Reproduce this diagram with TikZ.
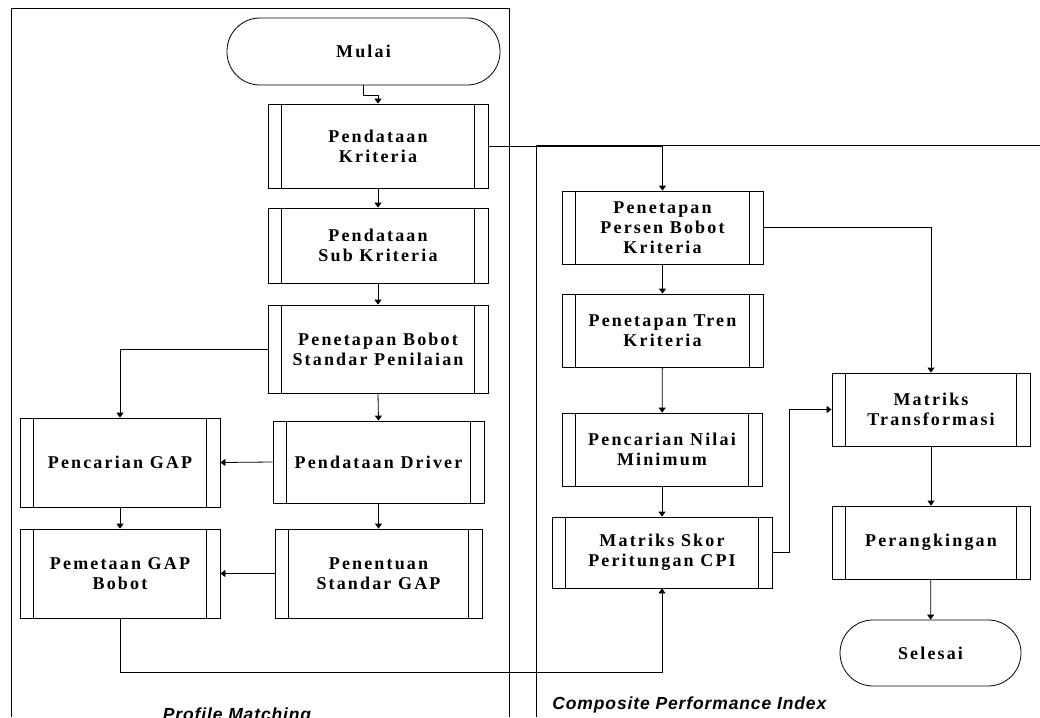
\documentclass[tikz,border=0pt]{standalone}
\usepackage{fontspec}
\setmainfont{Liberation Serif}
\newfontfamily\boxfont{Liberation Serif}[LetterSpace=12]
\newfontfamily\poolfont{Liberation Sans}[LetterSpace=5]
\usetikzlibrary{arrows.meta}

\begin{document}
\begin{tikzpicture}[x=1pt,y=-1pt,line width=0.8pt,
  boxtext/.style={font=\boxfont\bfseries\fontsize{18}{20}\selectfont},
  proc/.style={draw, boxtext, align=center, inner sep=0pt,
    path picture={
      \draw[line width=0.8pt]
        ([xshift=13.5pt]path picture bounding box.north west) --
        ([xshift=13.5pt]path picture bounding box.south west)
        ([xshift=-13.5pt]path picture bounding box.north east) --
        ([xshift=-13.5pt]path picture bounding box.south east);}},
  term/.style={draw, boxtext, align=center, inner sep=0pt, rounded corners=33pt},
  flow/.style={-{Triangle[length=5pt,width=7pt]}},
  poollabel/.style={font=\poolfont\bfseries\itshape\fontsize{17.5}{20}\selectfont, inner sep=0pt}]

\useasboundingbox[fill=white] (0,0) rectangle (1040,717);

% swimlane frames
\draw (11,717) -- (11,8) -- (509,8) -- (509,717);
\draw (536,717) -- (536,145) -- (1040,145);

\node[poollabel, anchor=base] (lblpm) at (237,720.5) {Profile Matching};
\node[poollabel, anchor=base west] (lblcpi) at (552,709) {Composite Performance Index};

% Profile Matching lane
\node[term, minimum width=273pt, minimum height=67pt] (mulai) at (363.5,51.5) {Mulai};
\node[proc, minimum width=220pt, minimum height=84pt] (kriteria) at (378,146) {Pendataan\\Kriteria};
\node[proc, minimum width=220pt, minimum height=75pt] (subkrit) at (378,245.5) {Pendataan\\Sub Kriteria};
\node[proc, minimum width=220pt, minimum height=88pt] (bobot) at (378,349) {Penetapan Bobot\\Standar Penilaian};
\node[proc, minimum width=200pt, minimum height=89pt] (gap) at (120,462.5) {Pencarian GAP};
\node[proc, minimum width=211pt, minimum height=82pt] (driver) at (378.5,462) {Pendataan Driver};
\node[proc, minimum width=200pt, minimum height=89pt] (pemetaan) at (120,573.5) {Pemetaan GAP\\Bobot};
\node[proc, minimum width=207pt, minimum height=89pt] (penentuan) at (378.5,573.5) {Penentuan\\Standar GAP};

% Composite Performance Index lane
\node[proc, minimum width=201pt, minimum height=73pt] (persen) at (662.5,227.5) {Penetapan\\Persen Bobot\\Kriteria};
\node[proc, minimum width=201pt, minimum height=73pt] (tren) at (662.5,330.5) {Penetapan Tren\\Kriteria};
\node[proc, minimum width=200pt, minimum height=73pt] (minimum) at (662,449.5) {Pencarian Nilai\\Minimum};
\node[proc, minimum width=220pt, minimum height=71pt] (skor) at (662,552.5) {Matriks Skor\\Peritungan CPI};
\node[proc, minimum width=198pt, minimum height=73pt] (transf) at (931,409.5) {Matriks\\Transformasi};
\node[proc, minimum width=198pt, minimum height=73pt] (rangking) at (931,542.5) {Perangkingan};
\node[term, minimum width=181pt, minimum height=66pt] (selesai) at (930.5,653) {Selesai};

% connectors
\draw[flow] (mulai.south) -- ++(0,10) -| (kriteria.north);
\draw[flow] (kriteria) -- (subkrit);
\draw[flow] (subkrit) -- (bobot);
\draw[flow] (bobot.west) -| (gap.north);
\draw[flow] (bobot.south) -- (driver.north);
\draw[flow] (driver.west) -- (gap.east);
\draw[flow] (gap) -- (pemetaan);
\draw[flow] (driver.south) -- (penentuan.north);
\draw[flow] (penentuan.west) -- (pemetaan.east);
\draw[flow] (pemetaan.south) -- ++(0,54) -| (skor.south);
\draw[flow] (kriteria.east) -| (persen.north);
\draw[flow] (persen) -- (tren);
\draw[flow] (tren) -- (minimum);
\draw[flow] (minimum) -- (skor);
\draw[flow] (persen.east) -| (transf.north);
\draw[flow] (skor.east) -- ++(17,0) |- (transf.west);
\draw[flow] (transf) -- (rangking);
\draw[flow] (rangking) -- (selesai);
\end{tikzpicture}
\end{document}
